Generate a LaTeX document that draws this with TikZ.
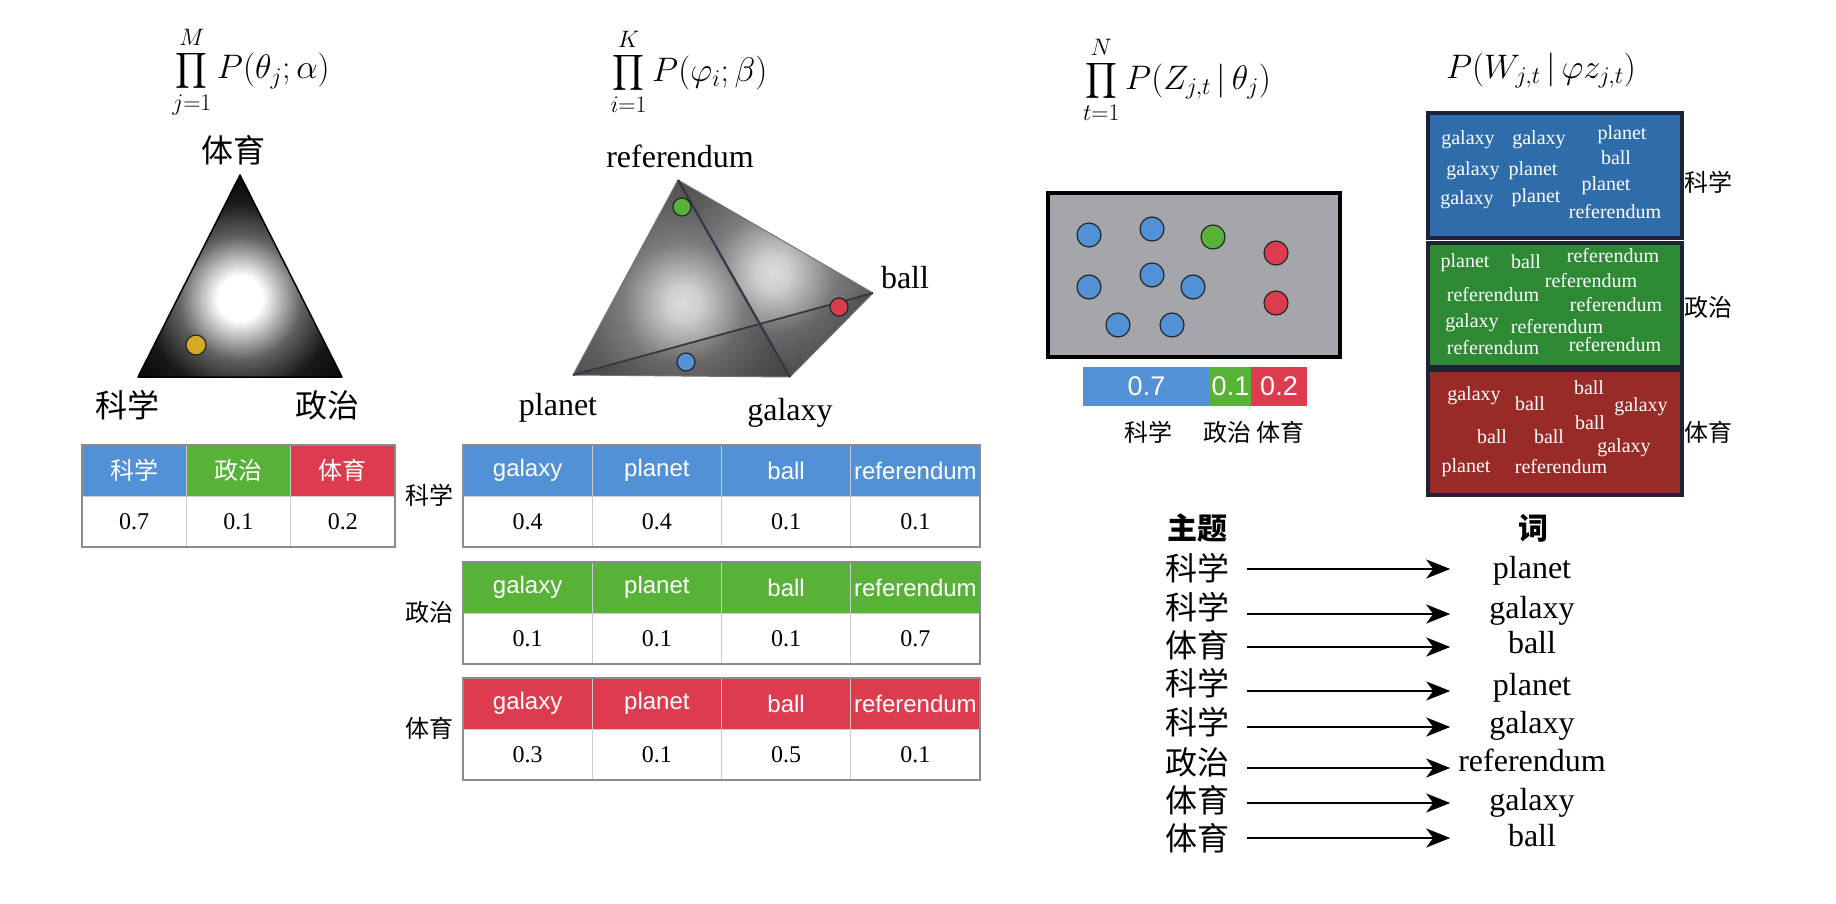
\RequirePackage{fix-cm}
\documentclass[tikz,border=0pt]{standalone}
\usepackage{exscale}
\usepackage{fontspec}
\setmainfont{Liberation Serif}
\newfontfamily\sansfont{Liberation Sans}
\newfontfamily\cjk{Noto Sans CJK SC}
\usetikzlibrary{arrows.meta}

\definecolor{sciblue}{RGB}{82,145,213}
\definecolor{polgreen}{RGB}{88,178,56}
\definecolor{sportred}{RGB}{221,60,78}
\definecolor{boxgray}{RGB}{165,166,169}
\definecolor{wblue}{RGB}{47,108,170}
\definecolor{wgreen}{RGB}{46,137,52}
\definecolor{wred}{RGB}{152,42,40}
\definecolor{wframe}{RGB}{30,34,52}
\definecolor{dotyellow}{RGB}{214,172,36}
\definecolor{edgegray}{RGB}{52,56,66}

\pgfdeclareradialshading{triglow}{\pgfpoint{0bp}{0bp}}{color(0bp)=(white); color(4bp)=(white); color(11bp)=(black!62); color(17bp)=(black!90); color(25bp)=(black); color(50bp)=(black)}
\pgfdeclareradialshading{tetglow}{\pgfpoint{0bp}{0bp}}{color(0bp)=(black!14); color(3bp)=(black!19); color(11bp)=(black!52); color(18bp)=(black!64); color(25bp)=(black!70); color(50bp)=(black!72)}

\begin{document}
\begin{tikzpicture}[x=1pt,y=-1pt,
  wd/.style={inner sep=0pt,font=\fontsize{32}{32}\selectfont,text height=23pt,text depth=7pt},
  cj/.style={inner sep=0pt,font=\cjk\fontsize{32}{32}\selectfont},
  cjs/.style={inner sep=0pt,font=\cjk\fontsize{24}{24}\selectfont},
  frm/.style={inner sep=0pt,font=\fontsize{34}{34}\selectfont},
  hcell/.style={draw=white!80!black,line width=0.8pt,inner sep=0pt,minimum height=51pt,text=white},
  vcell/.style={draw=white!80!black,line width=0.8pt,fill=white,inner sep=0pt,minimum height=51pt,font=\fontsize{24}{24}\selectfont},
  tframe/.style={draw=black!45,line width=1.5pt},
  bead/.style={circle,draw=black!85,line width=1.2pt,inner sep=0pt,minimum size=#1},
  bw/.style={inner sep=0pt,text=white,font=\fontsize{20}{20}\selectfont,text height=14pt,text depth=4.5pt},
  wbox/.style={draw=wframe,line width=4pt},
  barcell/.style={inner sep=0pt,minimum height=39pt,text=white,font=\sansfont\fontsize{27}{27}\selectfont},
  arr/.style={-{Stealth[length=24pt,width=19pt,inset=7pt]},line width=2.5pt}]
\useasboundingbox (0,0) rectangle (1836,904);

% formulas
\node[frm] (f1) at (251,72) {$\displaystyle\prod_{j=1}^{M}P(\theta_j;\alpha)$};
\node[frm] (f2) at (689,72) {$\displaystyle\prod_{i=1}^{K}P(\varphi_i;\beta)$};
\node[frm] (f3) at (1177,80) {$\displaystyle\prod_{t=1}^{N}P(Z_{j,t}\,|\,\theta_j)$};
\node[frm] (f4) at (1541,71) {$P(W_{j,t}\,|\,\varphi z_{j,t})$};

% topic simplex
\coordinate (tA) at (240,175);
\coordinate (tL) at (138,377);
\coordinate (tR) at (342,377);
\begin{scope}
  \clip (tA) -- (tL) -- (tR) -- cycle;
  \shade[shading=triglow] (240,298) circle (140pt);
\end{scope}
\draw[line width=1.5pt,line join=round] (tA) -- (tL) -- (tR) -- cycle;
\node[bead=20pt,fill=dotyellow] (theta) at (196,345) {};
\node[cj] (lsport) at (233,150) {体育};
\node[cj] (lsci) at (127,405) {科学};
\node[cj] (lpol) at (327,405) {政治};

% word simplex
\coordinate (vT) at (678,180);
\coordinate (vP) at (573,375);
\coordinate (vG) at (790,377);
\coordinate (vB) at (873,293);
\begin{scope}
  \clip (vT) -- (vP) -- (vG) -- cycle;
  \shade[shading=tetglow] (683,303) circle (140pt);
\end{scope}
\begin{scope}
  \clip (vT) -- (vG) -- (vB) -- cycle;
  \shade[shading=tetglow] (773,273) circle (140pt);
\end{scope}
\fill[black,opacity=0.15] (vP) -- (vG) -- (vB) -- cycle;
\draw[edgegray!70,line width=1pt,line join=round] (vT) -- (vP) -- (vG) -- (vB) -- cycle;
\draw[edgegray,line width=2.2pt] (vT) -- (vG);
\draw[edgegray,line width=1.8pt] (vP) -- (vB);
\node[bead=18pt,fill=polgreen] (phi2) at (682,207) {};
\node[bead=18pt,fill=sportred] (phi3) at (839,307) {};
\node[bead=18pt,fill=sciblue] (phi1) at (686,362) {};
\node[wd] (lref) at (680,160) {referendum};
\node[wd] (lplanet) at (558,407) {planet};
\node[wd] (lgalaxy) at (790,412) {galaxy};
\node[wd] (lball) at (905,280) {ball};

% theta table
\foreach \i/\t/\c/\v in {1/科学/sciblue/0.7,2/政治/polgreen/0.1,3/体育/sportred/0.2} {
  \node[hcell,fill=\c,minimum width=104.3pt,font=\cjk\fontsize{24}{24}\selectfont] (th\i) at ({82+104.33*(\i-0.5)},470.5) {\t};
  \node[vcell,minimum width=104.3pt] (tv\i) at ({82+104.33*(\i-0.5)},521.5) {\v};
}
\draw[tframe] (82,445) rectangle (395,547);

% phi tables
\foreach \r/\ty/\c/\n/\va/\vb/\vc/\vd in {1/445/sciblue/科学/0.4/0.4/0.1/0.1,2/562/polgreen/政治/0.1/0.1/0.1/0.7,3/678/sportred/体育/0.3/0.1/0.5/0.1} {
  \node[cjs] (row\r) at (429,{\ty+50}) {\n};
  \foreach \j/\w/\v in {1/galaxy/\va,2/planet/\vb,3/ball/\vc,4/referendum/\vd} {
    \node[hcell,fill=\c,minimum width=129.25pt,font=\sansfont\fontsize{24}{24}\selectfont] (m\r h\j) at ({463+129.25*(\j-0.5)},{\ty+25.5}) {\w};
    \node[vcell,minimum width=129.25pt] (m\r v\j) at ({463+129.25*(\j-0.5)},{\ty+76.5}) {\v};
  }
  \draw[tframe] (463,\ty) rectangle (980,{\ty+102});
}

% topic assignments
\draw[line width=4.5pt,fill=boxgray] (1048,193) rectangle (1340,357);
\foreach \n/\x/\y/\c in {1/1089/235/sciblue,2/1152/229/sciblue,3/1213/237/polgreen,4/1276/253/sportred,
    5/1089/287/sciblue,6/1152/275/sciblue,7/1193/287/sciblue,8/1276/303/sportred,
    9/1118/325/sciblue,10/1172/325/sciblue}
  \node[bead=24pt,fill=\c] (z\n) at (\x,\y) {};
\node[barcell,fill=sciblue,minimum width=127pt] (b1) at (1146.5,386.5) {0.7};
\node[barcell,fill=polgreen,minimum width=41pt] (b2) at (1230.5,386.5) {0.1};
\node[barcell,fill=sportred,minimum width=56pt] (b3) at (1279,386.5) {0.2};
\node[cjs] (bl1) at (1148,432) {科学};
\node[cjs] (bl2) at (1227,432) {政治};
\node[cjs] (bl3) at (1280,432) {体育};

% words per topic
\draw[wbox,fill=wblue] (1428,113) rectangle (1682,238);
\draw[wbox,fill=wgreen] (1428,243) rectangle (1682,367);
\draw[wbox,fill=wred] (1428,370) rectangle (1682,495);
\foreach \x/\y/\w [count=\k] in {1468/140/galaxy,1539/140/galaxy,1622/135/planet,1473/171/galaxy,1533/171/planet,
    1616/160/ball,1467/200/galaxy,1536/198/planet,1606/186/planet,1615/214/referendum,
    1465/263/planet,1526/264/ball,1613/258/referendum,1591/283/referendum,1493/297/referendum,
    1616/307/referendum,1472/323/galaxy,1557/329/referendum,1493/350/referendum,1615/347/referendum,
    1474/396/galaxy,1530/406/ball,1589/390/ball,1641/407/galaxy,1590/425/ball,
    1492/439/ball,1549/439/ball,1624/448/galaxy,1466/468/planet,1561/469/referendum}
  \node[bw] (bw\k) at (\x,\y) {\w};
\node[cjs] (sl1) at (1708,182) {科学};
\node[cjs] (sl2) at (1708,307) {政治};
\node[cjs] (sl3) at (1708,432) {体育};

% topic -> word
\node[inner sep=0pt,font=\cjk\bfseries\fontsize{30}{30}\selectfont] (hd1) at (1197,528) {主题};
\node[inner sep=0pt,font=\cjk\bfseries\fontsize{30}{30}\selectfont] (hd2) at (1533,528) {词};
\foreach \i/\t/\w/\ty/\ay/\wy in {1/科学/planet/568/569/570,2/科学/galaxy/607/614/610,3/体育/ball/645/647/645,
    4/科学/planet/683/691/687,5/科学/galaxy/722/727/725,6/政治/referendum/762/768/763,
    7/体育/galaxy/800/803/802,8/体育/ball/838/838/838} {
  \node[cj] (t\i) at (1197,\ty) {\t};
  \node[wd] (w\i) at (1532,\wy) {\w};
  \draw[arr] (t\i.east) ++(18,{\ay-\ty}) -- ++(203,0);
}
\end{tikzpicture}
\end{document}
